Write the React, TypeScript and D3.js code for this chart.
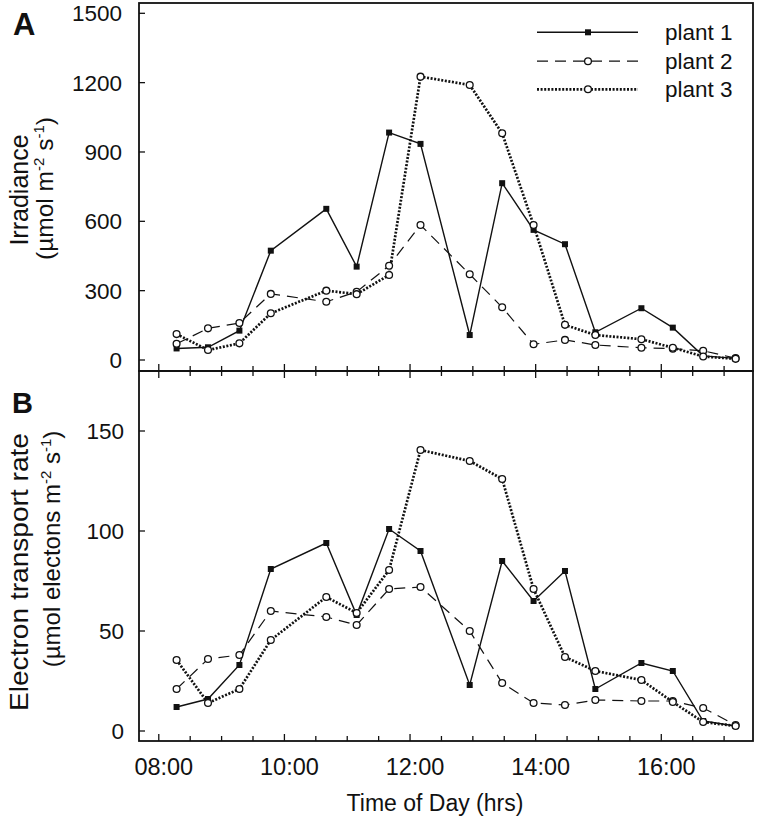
import React from "react";
import * as d3 from "d3";

const times = ["08:17","08:47","09:17","09:47","10:40","11:09","11:40","12:10","12:57","13:28","13:58","14:28","14:57","15:41","16:11","16:40","17:11"];

const irrPlant1 = [50, 55, 127, 473, 654, 404, 984, 935, 108, 765, 563, 501, 120, 224, 140, 18, 7];
const irrPlant2 = [70, 137, 160, 286, 252, 295, 408, 584, 371, 228, 68, 87, 65, 53, 49, 40, 8];
const irrPlant3 = [112, 43, 72, 202, 300, 285, 368, 1226, 1190, 981, 584, 152, 108, 90, 53, 15, 5];

const etrPlant1 = [12, 16, 33, 81, 94, 58, 101, 90, 23, 85, 65, 80, 21, 34, 30, 5, 2.5];
const etrPlant2 = [21, 36, 38, 60, 57, 53, 71, 72, 50, 24, 14, 13, 15.5, 15, 15, 11.5, 3];
const etrPlant3 = [35.5, 14, 21, 45.5, 67, 59, 80.5, 140.5, 135, 126, 71, 37, 30, 25.5, 14.5, 4.5, 2.5];

const seriesNames = ["plant 1", "plant 2", "plant 3"];
const irrTicks = [0, 300, 600, 900, 1200, 1500];
const etrTicks = [0, 50, 100, 150];
const xLabelHours = [8, 10, 12, 14, 16];
const xLabels = ["08:00", "10:00", "12:00", "14:00", "16:00"];

const parseT = (s: string) => {
  const [h, m] = s.split(":").map(Number);
  return h + m / 60;
};
const tHours = times.map(parseT);

const FONT = "Liberation Sans, Arial, Helvetica, sans-serif";
const INK = "#111";

const left = 139, right = 753;
const topA = 3, botA = 371, botB = 741;

const x = d3.scaleLinear().domain([7.685, 17.46]).range([left, right]);
const yA = d3.scaleLinear().domain([-47.6, 1544.6]).range([botA, topA]);
const yB = d3.scaleLinear().domain([-5, 180]).range([botB, botA]);

const styles = [
  { dash: undefined as string | undefined, width: 1.4, marker: "square" },
  { dash: "11,7", width: 1.2, marker: "circle" },
  { dash: "2,1.6", width: 2.7, marker: "circle" },
];

function Marker({ kind, cx, cy }: { kind: string; cx: number; cy: number }) {
  if (kind === "square") {
    return <rect x={cx - 3} y={cy - 3} width={6} height={6} fill={INK} />;
  }
  return <circle cx={cx} cy={cy} r={3.4} fill="#fff" stroke={INK} strokeWidth={1.3} />;
}

function Panel({ data, y }: { data: number[][]; y: d3.ScaleLinear<number, number> }) {
  return (
    <g>
      {data.map((vals, si) => {
        const pts = vals.map((v, i) => ({ t: tHours[i], v }));
        const line = d3
          .line<{ t: number; v: number }>()
          .x((d) => x(d.t))
          .y((d) => y(d.v));
        return (
          <path
            key={"l" + si}
            d={line(pts) || ""}
            fill="none"
            stroke={INK}
            strokeWidth={styles[si].width}
            strokeDasharray={styles[si].dash}
          />
        );
      })}
      {data.map((vals, si) =>
        vals.map((v, i) => (
          <Marker key={"m" + si + "-" + i} kind={styles[si].marker} cx={x(tHours[i])} cy={y(v)} />
        ))
      )}
    </g>
  );
}

export default function App() {
  const halfHours = d3.range(8, 17.01, 0.5);
  const legendY = [32.3, 61.2, 89.3];
  return (
    <svg
      width={757}
      height={823}
      style={{ position: "absolute", left: 0, top: 0, background: "#fff" }}
      fontFamily={FONT}
    >
      <rect x={0} y={0} width={757} height={823} fill="#fff" />
      <Panel data={[irrPlant1, irrPlant2, irrPlant3]} y={yA} />
      <Panel data={[etrPlant1, etrPlant2, etrPlant3]} y={yB} />

      {/* frames */}
      <rect x={left} y={topA} width={right - left} height={botA - topA} fill="none" stroke={INK} strokeWidth={1.8} />
      <rect x={left} y={botA} width={right - left} height={botB - botA} fill="none" stroke={INK} strokeWidth={1.8} />

      {/* y ticks */}
      {irrTicks.map((v) => (
        <g key={"ya" + v}>
          <line x1={left} x2={left + 6} y1={yA(v)} y2={yA(v)} stroke={INK} strokeWidth={1.3} />
          <text x={122} y={yA(v)} dy="0.36em" textAnchor="end" fontSize={22.5} fill={INK}>
            {v}
          </text>
        </g>
      ))}
      {etrTicks.map((v) => (
        <g key={"yb" + v}>
          <line x1={left} x2={left + 6} y1={yB(v)} y2={yB(v)} stroke={INK} strokeWidth={1.3} />
          <text x={124} y={yB(v)} dy="0.36em" textAnchor="end" fontSize={22.5} fill={INK}>
            {v}
          </text>
        </g>
      ))}

      {/* x ticks */}
      {halfHours.map((h) => {
        const major = h % 2 === 0;
        const len = major ? 7 : 5;
        const px = x(h);
        return (
          <g key={"xt" + h}>
            <line x1={px} x2={px} y1={botB} y2={botB - len} stroke={INK} strokeWidth={1.3} />
            <line x1={px} x2={px} y1={botA - len} y2={botA + len} stroke={INK} strokeWidth={1.3} />
          </g>
        );
      })}
      {xLabelHours.map((h, i) => (
        <text key={"xl" + h} x={x(h) + 5} y={775} textAnchor="middle" fontSize={23.5} fill={INK}>
          {xLabels[i]}
        </text>
      ))}

      {/* axis titles */}
      <text x={435} y={811} textAnchor="middle" fontSize={23} fill={INK}>
        Time of Day (hrs)
      </text>
      <text transform="translate(28,190) rotate(-90)" textAnchor="middle" fontSize={25} fill={INK}>
        Irradiance
      </text>
      <text transform="translate(53,188.5) rotate(-90)" textAnchor="middle" fontSize={24.5} fill={INK}>
        (µmol m<tspan dy={-9} fontSize={15}>-2</tspan>
        <tspan dy={9}> s</tspan>
        <tspan dy={-9} fontSize={15}>-1</tspan>
        <tspan dy={9}>)</tspan>
      </text>
      <text
        transform="translate(28,572) rotate(-90)"
        textAnchor="middle"
        fontSize={25}
        fill={INK}
        textLength={278}
        lengthAdjust="spacingAndGlyphs"
      >
        Electron transport rate
      </text>
      <text transform="translate(60,549) rotate(-90)" textAnchor="middle" fontSize={24} fill={INK}>
        (µmol electons m<tspan dy={-9} fontSize={15}>-2</tspan>
        <tspan dy={9}> s</tspan>
        <tspan dy={-9} fontSize={15}>-1</tspan>
        <tspan dy={9}>)</tspan>
      </text>

      {/* panel letters */}
      <text x={13} y={35} fontSize={31} fontWeight="bold" fill={INK}>A</text>
      <text x={12} y={413} fontSize={29} fontWeight="bold" fill={INK}>B</text>

      {/* legend */}
      {seriesNames.map((name, si) => (
        <g key={"lg" + si}>
          <line
            x1={537}
            x2={638}
            y1={legendY[si]}
            y2={legendY[si]}
            stroke={INK}
            strokeWidth={styles[si].width}
            strokeDasharray={styles[si].dash}
          />
          <Marker kind={styles[si].marker} cx={588} cy={legendY[si]} />
          <text x={665} y={legendY[si]} dy="0.36em" fontSize={22.5} fill={INK}>
            {name}
          </text>
        </g>
      ))}
    </svg>
  );
}
